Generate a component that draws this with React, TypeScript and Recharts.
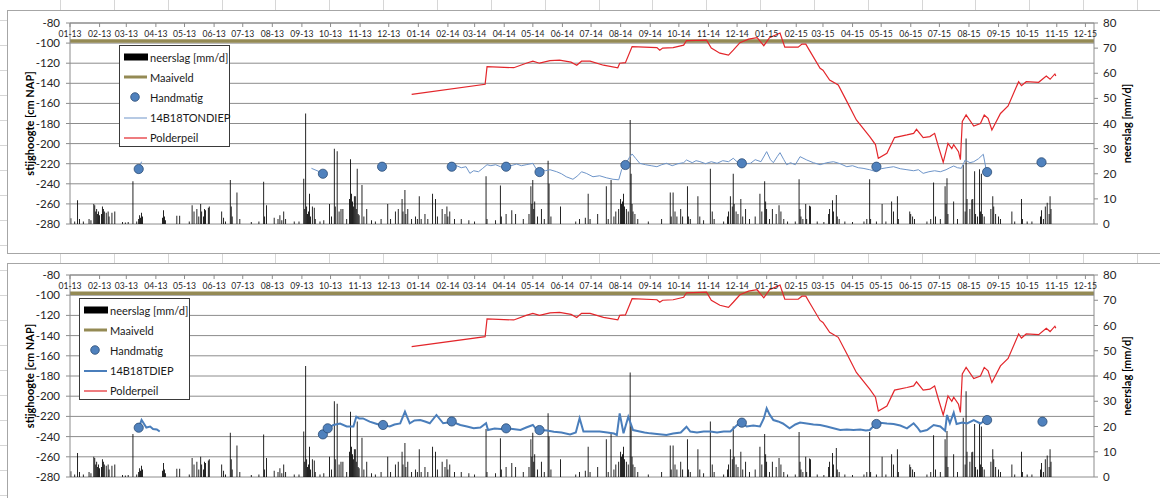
import {
  ComposedChart, Bar, Line, Scatter, XAxis, YAxis, CartesianGrid
} from 'recharts';

// days counted from 2013-01-01
const monthLabels = [
  '01-13', '02-13', '03-13', '04-13', '05-13', '06-13', '07-13', '08-13', '09-13', '10-13', '11-13', '12-13',
  '01-14', '02-14', '03-14', '04-14', '05-14', '06-14', '07-14', '08-14', '09-14', '10-14', '11-14', '12-14',
  '01-15', '02-15', '03-15', '04-15', '05-15', '06-15', '07-15', '08-15', '09-15', '10-15', '11-15', '12-15',
];
const leftTicks = [-280, -260, -240, -220, -200, -180, -160, -140, -120, -100, -80];
const rightTicks = [0, 10, 20, 30, 40, 50, 60, 70, 80];

// neerslag [mm/d]: [day, mm]
const neerslag: [number, number][] = [
  [1, 2.3], [5, 1], [8, 9.5], [10, 2], [14, 1], [20, 2], [22, 1.5], [25, 8], [26, 7.5], [27, 5], [28, 6], [29, 4],
  [30, 5], [31, 3.5], [33, 4], [34, 7], [35, 6], [36, 5], [38, 4.5], [40, 5], [41, 3], [44, 4.5], [47, 5], [55, 0.8],
  [58, 0.6], [61, 0.8], [66, 17], [70, 1], [72, 2], [73, 3.5], [74, 2.5], [75, 4.5], [76, 3], [97, 2.5], [98, 5.5],
  [99, 3], [100, 1.5], [112, 3.3], [115, 3.3], [125, 1], [128, 7.5], [130, 5], [133, 6], [135, 3], [137, 8], [138, 5],
  [140, 3], [141, 6], [142, 5.5], [145, 6.5], [146, 7], [159, 5], [161, 2.5], [163, 1], [168, 17.5], [169, 7], [170, 3],
  [175, 12.5], [178, 2], [190, 0.8], [198, 1], [203, 16.8], [204, 3], [206, 7.5], [214, 2.5], [218, 2], [220, 3.5],
  [222, 1.5], [224, 5], [226, 2], [235, 1], [240, 1], [245, 18], [246, 6], [247, 44], [248, 7], [249, 4], [250, 5],
  [251, 12], [252, 3], [254, 7], [256, 6.5], [257, 2], [262, 1], [266, 1.5], [272, 8], [274, 3], [277, 30], [278, 7],
  [280, 29], [282, 5], [284, 6], [286, 6], [290, 2], [293, 10], [294, 25.8], [295, 12], [296, 9], [297, 7], [298, 11],
  [299, 11], [300, 6], [301, 22], [302, 4], [303, 3.5], [306, 15.5], [308, 3], [311, 6], [316, 1.5], [320, 1], [326, 2],
  [333, 8], [336, 2], [341, 5], [344, 6], [348, 10], [349, 5], [351, 13.5], [352, 4], [354, 6], [358, 2], [362, 3],
  [364, 2], [366, 11], [368, 2], [372, 4], [375, 2], [380, 12], [383, 10], [385, 3], [390, 6], [393, 4], [395, 7],
  [396, 3], [398, 5], [403, 2], [410, 2], [418, 1.5], [424, 1], [436, 19], [437, 2], [446, 1.5], [451, 15.3], [452, 3],
  [457, 4], [463, 5.5], [467, 4], [475, 2], [481, 4], [483, 15], [484, 8], [485, 17.5], [486, 6], [487, 9], [490, 3],
  [494, 6], [497, 2], [501, 25.2], [502, 16], [504, 3], [514, 7], [530, 1], [534, 2], [540, 2.5], [543, 12], [545, 2],
  [553, 4], [562, 15], [564, 2], [567, 17.5], [570, 3], [572, 5], [575, 6], [577, 10], [578, 8], [579, 9], [580, 12],
  [581, 7], [583, 6], [585, 5], [587, 41.4], [588, 20], [589, 8], [590, 5], [592, 4], [595, 2], [606, 1], [620, 2],
  [629, 12.5], [630, 3], [632, 12.5], [634, 5], [636, 3], [640, 6], [642, 3], [647, 15], [648, 3], [650, 2], [658, 11],
  [660, 3], [664, 1.5], [671, 22], [673, 5], [675, 2], [685, 1], [689, 3], [690, 5], [692, 11], [694, 7], [695, 20],
  [696, 8], [698, 5], [700, 4], [703, 10], [705, 3], [708, 6], [712, 2], [718, 3], [723, 12], [725, 5], [728, 17],
  [729, 9], [730, 6], [733, 2], [736, 6], [740, 4], [743, 7.5], [745, 5], [748, 2], [752, 1], [760, 1], [764, 17.8],
  [765, 6], [766, 3], [768, 2], [771, 8], [772, 2], [775, 7.3], [776, 7], [783, 1], [790, 0.8], [795, 4], [796, 6],
  [799, 9.5], [800, 5], [803, 11.5], [804, 3], [806, 2], [812, 1], [820, 0.8], [832, 1], [835, 2], [838, 17.8], [839, 2],
  [845, 1], [851, 8], [855, 1], [861, 9], [863, 5], [867, 11], [868, 2], [880, 5], [881, 4], [883, 3], [885, 2], [898, 1],
  [902, 2], [905, 16.5], [907, 3], [912, 2], [917, 15], [918, 8], [919, 18.2], [920, 4], [926, 9], [930, 2], [936, 23.5],
  [938, 5], [939, 34], [940, 10], [943, 6], [945, 9.8], [946, 10], [948, 21], [949, 4], [951, 3], [953, 21.8], [954, 5],
  [955, 20], [956, 4], [958, 3], [965, 6], [967, 11], [968, 7], [970, 4], [973, 3], [975, 2], [987, 5], [990, 1],
  [997, 10], [998, 2], [1003, 1], [1008, 1], [1017, 3], [1018, 5.5], [1020, 2], [1022, 7], [1024, 8.5], [1026, 4],
  [1027, 11], [1028, 6],
];

const maaiveld: [number, number][] = [[0, -98], [1073, -98]];

const polderpeil: [number, number][] = [
  [358, -151], [435, -141], [437, -123.5], [465, -124.5], [478, -120], [485, -118], [492, -120], [503, -117.5],
  [513, -117], [525, -119], [531, -122], [536, -118], [545, -118], [559, -122], [574, -124.5], [576, -120], [582, -119.5],
  [589, -103.5], [615, -104.5], [618, -107], [621, -105], [632, -104.5], [643, -102], [646, -97.6], [667, -97],
  [672, -105], [681, -110], [690, -112], [695, -107], [702, -99.6], [711, -96], [720, -94.6], [727, -102.6], [733, -94.6],
  [744, -90], [749, -104], [763, -104], [767, -101], [771, -101], [775, -107.5], [786, -125], [789, -127], [796, -136.7],
  [805, -141.7], [814, -158], [824, -176.5], [838, -193], [844, -201], [847, -214.6], [856, -209.7], [864, -194],
  [877, -191.4], [884, -189.8], [887, -185.8], [894, -194], [901, -193], [906, -189.8], [910, -203], [915, -218.6],
  [920, -199.7], [924, -205], [926, -201], [931, -208], [933, -216], [935, -178], [939, -171.5], [947, -182.5],
  [954, -180], [958, -171.5], [962, -174.8], [966, -186.5], [975, -170], [983, -162.6], [994, -138.4], [997, -142.4],
  [1002, -138.4], [1015, -139], [1023, -132.7], [1027, -136], [1032, -130.7], [1033, -132.7],
];

// 14B18TONDIEP (top panel), three logger segments
const tondiep: [number, number][][] = [
  [[72, -225], [75, -218]],
  [[253, -224.6], [264, -229]],
  [
    [400, -223], [405, -222], [410, -224], [415, -223], [419, -229.6], [423, -227], [428, -228], [432, -225], [437, -221],
    [441, -222], [446, -221], [451, -223], [457, -224], [462, -222], [468, -220.3], [473, -222], [478, -221], [485, -219.6],
    [489, -226], [494, -225], [498, -227], [503, -226], [510, -228], [515, -230], [520, -233], [527, -235.5], [532, -232],
    [536, -228], [541, -229.6], [548, -233], [555, -232], [562, -234], [569, -235.5], [575, -236], [578, -226], [582, -221],
    [586, -214], [589, -210.3], [593, -215], [597, -219.6], [603, -221], [609, -222], [615, -223], [620, -221], [625, -219.6],
    [631, -222], [637, -220], [643, -219], [646, -216.3], [652, -219], [656, -217], [660, -217.9], [666, -220], [672, -218],
    [678, -219.6], [684, -217], [690, -218], [695, -214.6], [700, -219], [706, -220], [713, -219.6], [718, -216], [724, -218],
    [730, -208], [734, -216], [737, -219], [741, -213], [744, -209], [748, -216], [751, -221], [755, -219], [760, -221],
    [765, -213], [772, -216.3], [779, -219], [786, -221], [793, -219], [800, -218], [807, -220], [814, -223], [820, -222],
    [826, -224], [831, -224.6], [838, -226], [845, -228], [850, -225], [856, -224], [863, -223], [870, -225], [877, -226],
    [884, -227], [889, -226], [894, -229.6], [900, -228], [906, -227], [912, -228], [918, -226], [922, -224], [926, -222.3],
    [930, -224], [934, -224.6], [938, -216.3], [943, -219], [947, -218], [952, -215], [957, -210.6], [960, -226],
  ],
];

// 14B18TDIEP (bottom panel)
const tdiep: [number, number][][] = [
  [[72, -231], [75, -223.6], [80, -231], [84, -230], [87, -232.5], [91, -233], [94, -235]],
  [
    [270, -232], [276, -228.5], [283, -227], [290, -230], [297, -230], [300, -220.3], [303, -222], [307, -222],
    [314, -225.2], [320, -227], [325, -228.5], [330, -229], [335, -230], [340, -228], [346, -227], [351, -215.3],
    [356, -226.8], [361, -224], [367, -223.6], [372, -225], [377, -226.8], [384, -218.6], [391, -226.8], [396, -226],
    [400, -225], [405, -227], [409, -228.5], [416, -230], [423, -231.8], [430, -231], [436, -226.8], [438, -233.5],
    [445, -232], [451, -232.5], [457, -231.8], [464, -232.5], [472, -233.5], [478, -231], [485, -228.5], [488, -232],
    [492, -233.5], [500, -234], [507, -235.1], [515, -236], [524, -237.8], [530, -236], [534, -221.9], [538, -235],
    [545, -235], [555, -235], [563, -236], [570, -237], [573, -238.4], [576, -217], [580, -236.7], [585, -220.3],
    [590, -233.5], [597, -235], [602, -236], [608, -236.8], [615, -237.5], [625, -238.4], [632, -237], [640, -236],
    [646, -230.2], [650, -235], [657, -236], [664, -235], [671, -235], [678, -236], [685, -235], [692, -235], [699, -228.5],
    [704, -226.2], [709, -230], [716, -229], [723, -230], [727, -222], [730, -212], [733, -218], [737, -223.6], [742, -225],
    [747, -227], [754, -231.8], [760, -228], [765, -226], [772, -227], [779, -228], [786, -228.5], [793, -230], [800, -231.8],
    [807, -233.5], [814, -233], [821, -233.5], [828, -233], [834, -234], [838, -233.5], [842, -229.5], [849, -226.2],
    [856, -227], [863, -227.5], [870, -229], [877, -231.8], [884, -226.8], [888, -231], [891, -235.1], [898, -233.5],
    [905, -228.5], [912, -230], [917, -234.2], [919, -218.6], [922, -226.8], [926, -216.3], [929, -227.5], [935, -226],
    [940, -227], [947, -223.6], [954, -227], [959, -223.6],
  ],
];

const handmatigTop: [number, number][] = [
  [72, -225.3], [265, -230], [327, -223], [400, -223], [457, -223], [492, -228.3], [582, -221.3], [704, -219.6],
  [845, -223], [961, -228.3], [1018, -218.6],
];
const handmatigBottom: [number, number][] = [
  [72, -231.2], [265, -237.8], [270, -231.8], [328, -228.5], [400, -225], [457, -231.8], [492, -233.5], [704, -226.2],
  [845, -227.5], [961, -223.6], [1019, -225.2],
];

const FONT = 'Lato, "Open Sans", sans-serif';
const GRID = '#8c8c8c';
const OLIVE = '#948A54';
const RED = '#E3262B';
const DOT = '#4F81BD';
const PLOT_TOP = 23;

const monthDays = monthLabels.map(l => {
  const m = Number(l.slice(0, 2)) - 1;
  const y = 2000 + Number(l.slice(3));
  return Math.round((Date.UTC(y, m, 1) - Date.UTC(2013, 0, 1)) / 86400000);
});

const toRows = (pts: [number, number][]) => pts.map(([day, v]) => ({ day, v }));
const rainRows = neerslag.map(([day, mm]) => ({ day, mm }));

// month labels sit just under the top axis line, with ticks pointing into the plot
const MonthTick = (props: any) => {
  const { x, payload } = props;
  const idx = monthDays.indexOf(payload.value);
  return (
    <g>
      <line x1={x} x2={x} y1={PLOT_TOP} y2={PLOT_TOP + 4} stroke={GRID} />
      <text x={x} y={PLOT_TOP + 14} textAnchor="middle" fontSize={8.6} fill="#262626" fontFamily={FONT}>
        {monthLabels[idx]}
      </text>
    </g>
  );
};

const dotShape = (p: any) => (
  <circle cx={p.cx} cy={p.cy} r={4.6} fill={DOT} stroke="#2C4D75" strokeWidth={0.8} />
);

interface PanelProps {
  top: number;
  height: number;
  bottom: number;
  sensor: [number, number][][];
  sensorName: string;
  sensorColor: string;
  sensorWidth: number;
  handmatig: [number, number][];
  legend: { left: number; top: number };
}

function LegendBox({ left, top, sensorName, sensorColor, sensorWidth }: any) {
  const rows = [
    { name: 'neerslag [mm/d]', sym: <rect x={0} y={-3.5} width={24} height={7} fill="#000" /> },
    { name: 'Maaiveld', sym: <line x1={0} x2={23} y1={0} y2={0} stroke={OLIVE} strokeWidth={3} /> },
    { name: 'Handmatig', sym: <circle cx={11} cy={0} r={4.3} fill={DOT} stroke="#2C4D75" strokeWidth={0.8} /> },
    { name: sensorName, sym: <line x1={0} x2={23} y1={0} y2={0} stroke={sensorColor} strokeWidth={sensorWidth} /> },
    { name: 'Polderpeil', sym: <line x1={0} x2={23} y1={0} y2={0} stroke={RED} strokeWidth={1.2} /> },
  ];
  return (
    <div style={{
      position: 'absolute', left, top, width: 109, height: 100,
      background: 'white', border: '1px solid #3a3a3a', fontFamily: FONT,
    }}>
      {rows.map((r, i) => (
        <div key={r.name} style={{ position: 'absolute', left: 4, top: 3 + i * 20.2, height: 16, display: 'flex', alignItems: 'center' }}>
          <svg width={25} height={16} style={{ overflow: 'visible' }}>
            <g transform="translate(0,8)">{r.sym}</g>
          </svg>
          <span style={{ fontSize: 11, color: '#1a1a1a', marginLeft: 1, whiteSpace: 'nowrap' }}>{r.name}</span>
        </div>
      ))}
    </div>
  );
}

function Panel({ top, height, bottom, sensor, sensorName, sensorColor, sensorWidth, handmatig, legend }: PanelProps) {
  return (
    <div style={{ position: 'absolute', left: 0, top, width: 1160, height }}>
      <ComposedChart
        width={1160}
        height={height}
        data={rainRows}
        margin={{ top: PLOT_TOP - 20, right: 0, bottom, left: 0 }}
      >
        <CartesianGrid yAxisId="left" vertical={false} stroke={GRID} />
        <XAxis
          dataKey="day"
          type="number"
          orientation="top"
          domain={[0, 1073]}
          allowDataOverflow
          ticks={monthDays}
          interval={0}
          height={20}
          axisLine={{ stroke: GRID }}
          tickLine={false}
          tick={<MonthTick />}
        />
        <YAxis
          yAxisId="left"
          domain={[-280, -80]}
          ticks={leftTicks}
          interval={0}
          width={70}
          tickSize={4}
          tickMargin={6}
          axisLine={{ stroke: GRID }}
          tickLine={{ stroke: GRID }}
          tick={{ fontSize: 11.5, fill: '#262626', fontFamily: FONT }}
          label={{
            value: 'stijghoogte [cm NAP]', angle: -90, position: 'center', dx: -5,
            style: { fontSize: 11, fontWeight: 700, fill: '#000', fontFamily: FONT },
          }}
        />
        <YAxis
          yAxisId="right"
          orientation="right"
          domain={[0, 80]}
          ticks={rightTicks}
          interval={0}
          width={66}
          tickSize={4}
          tickMargin={5}
          axisLine={{ stroke: GRID }}
          tickLine={{ stroke: GRID }}
          tick={{ fontSize: 11.5, fill: '#262626', fontFamily: FONT }}
          label={{
            value: 'neerslag [mm/d]', angle: -90, position: 'center', dx: 0,
            style: { fontSize: 11, fontWeight: 700, fill: '#000', fontFamily: FONT },
          }}
        />
        <Bar yAxisId="right" dataKey="mm" fill="#000" barSize={1.4} isAnimationActive={false} />
        <Line
          yAxisId="left" data={toRows(maaiveld)} dataKey="v" stroke={OLIVE} strokeWidth={3.5}
          dot={false} activeDot={false} isAnimationActive={false}
        />
        <Line
          yAxisId="left" data={toRows(polderpeil)} dataKey="v" stroke={RED} strokeWidth={1.2}
          dot={false} activeDot={false} isAnimationActive={false}
        />
        {sensor.map((seg, i) => (
          <Line
            key={i} yAxisId="left" data={toRows(seg)} dataKey="v" stroke={sensorColor} strokeWidth={sensorWidth}
            dot={false} activeDot={false} isAnimationActive={false}
          />
        ))}
        <Scatter yAxisId="left" data={toRows(handmatig)} dataKey="v" shape={dotShape} isAnimationActive={false} />
      </ComposedChart>
      <LegendBox left={legend.left} top={legend.top} sensorName={sensorName} sensorColor={sensorColor} sensorWidth={sensorWidth} />
    </div>
  );
}

const cellXs = Array.from({ length: 21 }, (_, i) => 60 + i * 53.85);

export default function App() {
  return (
    <div style={{ position: 'absolute', left: 0, top: 0, width: 1160, height: 498, overflow: 'hidden', background: 'white' }}>
      {/* spreadsheet cells around the charts */}
      {cellXs.map(x => (
        <div key={'a' + x} style={{ position: 'absolute', left: x, top: 0, width: 1, height: 10, background: '#d6d6d6' }} />
      ))}
      {cellXs.map(x => (
        <div key={'b' + x} style={{ position: 'absolute', left: x, top: 252, width: 1, height: 11, background: '#d6d6d6' }} />
      ))}
      {Array.from({ length: 20 }, (_, i) => (
        <div key={'r' + i} style={{ position: 'absolute', left: 0, top: 20 + i * 25, width: 7, height: 1, background: '#d6d6d6' }} />
      ))}
      <div style={{ position: 'absolute', left: 7, top: 10, width: 1200, height: 242, border: '1px solid #a6a6a6', background: 'white' }} />
      <div style={{ position: 'absolute', left: 7, top: 263, width: 1200, height: 260, border: '1px solid #a6a6a6', background: 'white' }} />

      <Panel
        top={0} height={252} bottom={28}
        sensor={tondiep} sensorName="14B18TONDIEP" sensorColor="#6E95C9" sensorWidth={1}
        handmatig={handmatigTop} legend={{ left: 119, top: 45 }}
      />
      <Panel
        top={252} height={246} bottom={21}
        sensor={tdiep} sensorName="14B18TDIEP" sensorColor="#4A7EBB" sensorWidth={2}
        handmatig={handmatigBottom} legend={{ left: 79, top: 46 }}
      />
    </div>
  );
}
